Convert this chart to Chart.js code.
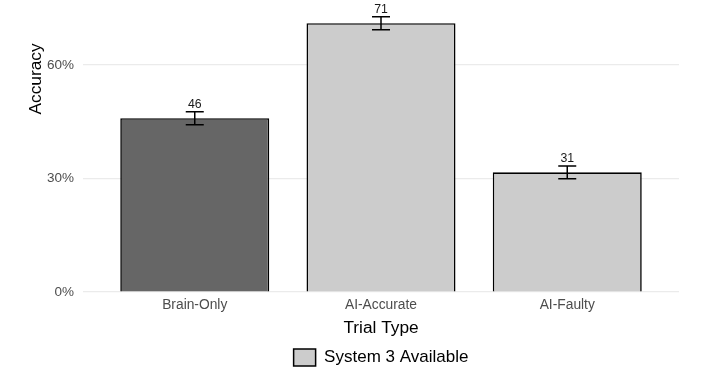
<!DOCTYPE html>
<html>
<head>
<meta charset="utf-8">
<script src="https://cdn.jsdelivr.net/npm/chart.js@4.4.1/dist/chart.umd.min.js"></script>
<style>
  html, body { margin: 0; padding: 0; background: #ffffff; }
  #wrap { width: 717px; height: 382px; position: relative; }
</style>
</head>
<body>
<div id="wrap"><canvas id="c" width="717" height="382"></canvas></div>
<script>
// ---- data ----
const categories = ['Brain-Only', 'AI-Accurate', 'AI-Faulty'];
const accuracy = [45.9, 71.0, 31.6];
const errLow = [44.2, 69.3, 29.9];
const errHigh = [47.6, 72.7, 33.3];
const valueLabels = ['46', '71', '31'];
const yTickValues = [0, 30, 60];
const barColors = ['#666666', '#cccccc', '#cccccc'];
const legendLabel = 'System 3 Available';
const xTitle = 'Trial Type';
const yTitle = 'Accuracy';

const FONT = "'Liberation Sans', Arial, sans-serif";
const PANEL_BOTTOM = 292;
const PAD_BOTTOM = 6;
const LEGEND_H = 37;

const errorBarPlugin = {
  id: 'errorBars',
  afterDatasetsDraw(chart) {
    const ctx = chart.ctx;
    const xs = chart.scales.x, ys = chart.scales.y;
    ctx.save();
    ctx.strokeStyle = '#000000';
    ctx.lineWidth = 1.5;
    categories.forEach((c, i) => {
      const x = xs.getPixelForValue(i + 1);
      const yl = ys.getPixelForValue(errLow[i]);
      const yh = ys.getPixelForValue(errHigh[i]);
      const hw = 9;
      ctx.beginPath();
      ctx.moveTo(x, yl); ctx.lineTo(x, yh);
      ctx.moveTo(x - hw, yl); ctx.lineTo(x + hw, yl);
      ctx.moveTo(x - hw, yh); ctx.lineTo(x + hw, yh);
      ctx.stroke();
      ctx.fillStyle = '#1a1a1a';
      ctx.font = '12.3px ' + FONT;
      ctx.textAlign = 'center';
      ctx.textBaseline = 'alphabetic';
      ctx.fillText(valueLabels[i], x, yh - 3.5);
    });
    // y axis title
    ctx.save();
    ctx.translate(36, 79);
    ctx.rotate(-Math.PI / 2);
    ctx.fillStyle = '#000000';
    ctx.font = '17.3px ' + FONT;
    ctx.textAlign = 'center';
    ctx.textBaseline = 'middle';
    ctx.fillText(yTitle, 0, 0);
    ctx.restore();
    ctx.restore();
  }
};

new Chart(document.getElementById('c'), {
  type: 'bar',
  data: {
    datasets: [{
      label: legendLabel,
      data: categories.map((c, i) => ({ x: i + 1, y: accuracy[i] })),
      backgroundColor: barColors,
      borderColor: '#000000',
      borderWidth: 1.6,
      barPercentage: 0.8,
      categoryPercentage: 1.0
    }]
  },
  options: {
    responsive: false,
    animation: false,
    devicePixelRatio: 1,
    layout: { padding: { left: 0, right: 38, top: 2, bottom: PAD_BOTTOM } },
    plugins: {
      tooltip: { enabled: false },
      legend: {
        display: true,
        position: 'bottom',
        fullSize: false,
        onClick: null,
        labels: {
          boxWidth: 22,
          boxHeight: 17,
          padding: 10,
          color: '#000000',
          font: { family: FONT, size: 17 },
          generateLabels: () => [{
            text: legendLabel,
            fillStyle: '#cccccc',
            strokeStyle: '#000000',
            lineWidth: 1.5,
            hidden: false,
            datasetIndex: 0
          }]
        }
      }
    },
    scales: {
      x: {
        type: 'linear',
        offset: false,
        min: 0.4,
        max: 3.6,
        afterBuildTicks: (s) => { s.ticks = categories.map((c, i) => ({ value: i + 1 })); },
        afterFit: (s) => {
          s.height = s.chart.height - LEGEND_H - PAD_BOTTOM - PANEL_BOTTOM;
          s.paddingLeft = 0; s.paddingRight = 0;
        },
        grid: { display: false, drawTicks: false },
        border: { display: false },
        ticks: {
          padding: 5,
          color: '#4d4d4d',
          font: { family: FONT, size: 13.8 },
          autoSkip: false,
          maxRotation: 0,
          callback: (v) => categories[Math.round(v) - 1] || ''
        },
        title: {
          display: true,
          text: xTitle,
          color: '#000000',
          font: { family: FONT, size: 17.3 },
          padding: { top: 0, bottom: 0 }
        }
      },
      y: {
        min: 0,
        max: 76.6,
        afterBuildTicks: (s) => { s.ticks = yTickValues.map(v => ({ value: v })); },
        afterFit: (s) => { s.width = 83; s.paddingTop = 0; s.paddingBottom = 0; },
        grid: { color: '#ebebeb', lineWidth: 1.2, drawTicks: false },
        border: { display: false },
        ticks: {
          padding: 9,
          color: '#4d4d4d',
          font: { family: FONT, size: 13.5 },
          callback: (v) => v + '%'
        }
      }
    }
  },
  plugins: [errorBarPlugin]
});
</script>
</body>
</html>
